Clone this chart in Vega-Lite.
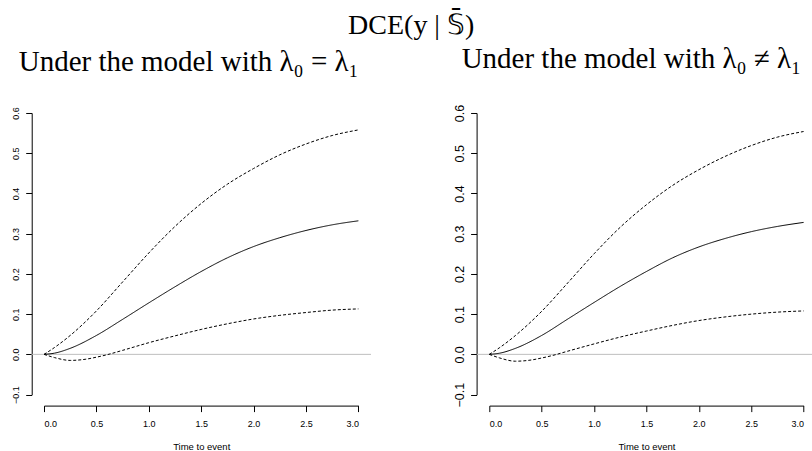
{
  "$schema": "https://vega.github.io/schema/vega-lite/v6.json",
  "background": "white",
  "padding": {"left": 11, "top": 12, "right": 0, "bottom": 0},
  "title": {
    "text": "DCE(y | 𝕊̄)",
    "font": "Liberation Serif",
    "fontSize": 28,
    "fontWeight": "normal",
    "color": "black",
    "anchor": "middle",
    "dx": -3,
    "offset": 5
  },
  "config": {
    "font": "Liberation Sans",
    "view": {"stroke": null},
    "axis": {
      "grid": false,
      "domainColor": "black",
      "tickColor": "black",
      "labelColor": "black",
      "titleColor": "black",
      "titleFontWeight": "normal",
      "labelFont": "Liberation Sans",
      "titleFont": "Liberation Sans"
    }
  },
  "datasets": {
    "curves": [
      {"panel": "eq", "band": "upper", "t": 0, "v": 0},
      {"panel": "eq", "band": "upper", "t": 0.1, "v": 0.017},
      {"panel": "eq", "band": "upper", "t": 0.25, "v": 0.047},
      {"panel": "eq", "band": "upper", "t": 0.5, "v": 0.108},
      {"panel": "eq", "band": "upper", "t": 0.75, "v": 0.18},
      {"panel": "eq", "band": "upper", "t": 1.0, "v": 0.252},
      {"panel": "eq", "band": "upper", "t": 1.25, "v": 0.318},
      {"panel": "eq", "band": "upper", "t": 1.5, "v": 0.375},
      {"panel": "eq", "band": "upper", "t": 1.75, "v": 0.423},
      {"panel": "eq", "band": "upper", "t": 2.0, "v": 0.462},
      {"panel": "eq", "band": "upper", "t": 2.25, "v": 0.496},
      {"panel": "eq", "band": "upper", "t": 2.5, "v": 0.523},
      {"panel": "eq", "band": "upper", "t": 2.75, "v": 0.544},
      {"panel": "eq", "band": "upper", "t": 3.0, "v": 0.558},
      {"panel": "eq", "band": "estimate", "t": 0, "v": 0},
      {"panel": "eq", "band": "estimate", "t": 0.1, "v": 0.003},
      {"panel": "eq", "band": "estimate", "t": 0.25, "v": 0.015},
      {"panel": "eq", "band": "estimate", "t": 0.5, "v": 0.047},
      {"panel": "eq", "band": "estimate", "t": 0.75, "v": 0.087},
      {"panel": "eq", "band": "estimate", "t": 1.0, "v": 0.128},
      {"panel": "eq", "band": "estimate", "t": 1.25, "v": 0.168},
      {"panel": "eq", "band": "estimate", "t": 1.5, "v": 0.206},
      {"panel": "eq", "band": "estimate", "t": 1.75, "v": 0.24},
      {"panel": "eq", "band": "estimate", "t": 2.0, "v": 0.268},
      {"panel": "eq", "band": "estimate", "t": 2.25, "v": 0.29},
      {"panel": "eq", "band": "estimate", "t": 2.5, "v": 0.308},
      {"panel": "eq", "band": "estimate", "t": 2.75, "v": 0.322},
      {"panel": "eq", "band": "estimate", "t": 3.0, "v": 0.332},
      {"panel": "eq", "band": "lower", "t": 0, "v": 0},
      {"panel": "eq", "band": "lower", "t": 0.1, "v": -0.008},
      {"panel": "eq", "band": "lower", "t": 0.25, "v": -0.015},
      {"panel": "eq", "band": "lower", "t": 0.4, "v": -0.012},
      {"panel": "eq", "band": "lower", "t": 0.5, "v": -0.007},
      {"panel": "eq", "band": "lower", "t": 0.6, "v": -0.001},
      {"panel": "eq", "band": "lower", "t": 0.75, "v": 0.01},
      {"panel": "eq", "band": "lower", "t": 1.0, "v": 0.029},
      {"panel": "eq", "band": "lower", "t": 1.25, "v": 0.046},
      {"panel": "eq", "band": "lower", "t": 1.5, "v": 0.062},
      {"panel": "eq", "band": "lower", "t": 1.75, "v": 0.076},
      {"panel": "eq", "band": "lower", "t": 2.0, "v": 0.088},
      {"panel": "eq", "band": "lower", "t": 2.25, "v": 0.097},
      {"panel": "eq", "band": "lower", "t": 2.5, "v": 0.104},
      {"panel": "eq", "band": "lower", "t": 2.75, "v": 0.11},
      {"panel": "eq", "band": "lower", "t": 3.0, "v": 0.113},
      {"panel": "neq", "band": "upper", "t": 0, "v": 0},
      {"panel": "neq", "band": "upper", "t": 0.1, "v": 0.017},
      {"panel": "neq", "band": "upper", "t": 0.25, "v": 0.047},
      {"panel": "neq", "band": "upper", "t": 0.5, "v": 0.107},
      {"panel": "neq", "band": "upper", "t": 0.75, "v": 0.178},
      {"panel": "neq", "band": "upper", "t": 1.0, "v": 0.25},
      {"panel": "neq", "band": "upper", "t": 1.25, "v": 0.316},
      {"panel": "neq", "band": "upper", "t": 1.5, "v": 0.372},
      {"panel": "neq", "band": "upper", "t": 1.75, "v": 0.42},
      {"panel": "neq", "band": "upper", "t": 2.0, "v": 0.459},
      {"panel": "neq", "band": "upper", "t": 2.25, "v": 0.492},
      {"panel": "neq", "band": "upper", "t": 2.5, "v": 0.519},
      {"panel": "neq", "band": "upper", "t": 2.75, "v": 0.54},
      {"panel": "neq", "band": "upper", "t": 3.0, "v": 0.554},
      {"panel": "neq", "band": "estimate", "t": 0, "v": 0},
      {"panel": "neq", "band": "estimate", "t": 0.1, "v": 0.003},
      {"panel": "neq", "band": "estimate", "t": 0.25, "v": 0.015},
      {"panel": "neq", "band": "estimate", "t": 0.5, "v": 0.047},
      {"panel": "neq", "band": "estimate", "t": 0.75, "v": 0.088},
      {"panel": "neq", "band": "estimate", "t": 1.0, "v": 0.129},
      {"panel": "neq", "band": "estimate", "t": 1.25, "v": 0.169},
      {"panel": "neq", "band": "estimate", "t": 1.5, "v": 0.206},
      {"panel": "neq", "band": "estimate", "t": 1.75, "v": 0.24},
      {"panel": "neq", "band": "estimate", "t": 2.0, "v": 0.267},
      {"panel": "neq", "band": "estimate", "t": 2.25, "v": 0.288},
      {"panel": "neq", "band": "estimate", "t": 2.5, "v": 0.305},
      {"panel": "neq", "band": "estimate", "t": 2.75, "v": 0.318},
      {"panel": "neq", "band": "estimate", "t": 3.0, "v": 0.328},
      {"panel": "neq", "band": "lower", "t": 0, "v": 0},
      {"panel": "neq", "band": "lower", "t": 0.1, "v": -0.009},
      {"panel": "neq", "band": "lower", "t": 0.25, "v": -0.017},
      {"panel": "neq", "band": "lower", "t": 0.4, "v": -0.014},
      {"panel": "neq", "band": "lower", "t": 0.5, "v": -0.009},
      {"panel": "neq", "band": "lower", "t": 0.6, "v": -0.003},
      {"panel": "neq", "band": "lower", "t": 0.75, "v": 0.008},
      {"panel": "neq", "band": "lower", "t": 1.0, "v": 0.026},
      {"panel": "neq", "band": "lower", "t": 1.25, "v": 0.043},
      {"panel": "neq", "band": "lower", "t": 1.5, "v": 0.058},
      {"panel": "neq", "band": "lower", "t": 1.75, "v": 0.072},
      {"panel": "neq", "band": "lower", "t": 2.0, "v": 0.084},
      {"panel": "neq", "band": "lower", "t": 2.25, "v": 0.093},
      {"panel": "neq", "band": "lower", "t": 2.5, "v": 0.1},
      {"panel": "neq", "band": "lower", "t": 2.75, "v": 0.105},
      {"panel": "neq", "band": "lower", "t": 3.0, "v": 0.108}
    ]
  },
  "bounds": "flush",
  "spacing": 130.3,
  "hconcat": [
    {
      "width": 314.4,
      "height": 281.6,
      "title": {
        "text": "Under the model with λ₀ = λ₁",
        "font": "Liberation Serif",
        "fontSize": 29,
        "fontWeight": "normal",
        "color": "black",
        "anchor": "middle",
        "frame": "group",
        "dx": -12.5,
        "offset": 30
      },
      "layer": [
        {
          "data": {"values": [{}]},
          "mark": {"type": "rule", "color": "#bebebe", "strokeWidth": 1},
          "encoding": {
            "x": {"datum": -0.12, "type": "quantitative", "scale": {"domain": [0, 3], "nice": false, "zero": false}},
            "x2": {"datum": 3.12},
            "y": {"datum": 0, "type": "quantitative", "scale": {"domain": [-0.1, 0.6], "nice": false, "zero": false}}
          }
        },
        {
          "data": {"name": "curves"},
          "transform": [{"filter": "datum.panel == 'eq'"}],
          "mark": {"type": "line", "color": "black", "strokeWidth": 1, "interpolate": "monotone"},
          "encoding": {
            "x": {
              "field": "t", "type": "quantitative",
              "scale": {"domain": [0, 3], "nice": false, "zero": false},
              "axis": {"values": [0, 0.5, 1, 1.5, 2, 2.5, 3], "format": ".1f", "offset": 11, "tickSize": 6, "labelFontSize": 9, "labelPadding": 8, "title": "Time to event", "titleFontSize": 9.5, "titlePadding": 13}
            },
            "y": {
              "field": "v", "type": "quantitative",
              "scale": {"domain": [-0.1, 0.6], "nice": false, "zero": false},
              "axis": {"values": [-0.1, 0, 0.1, 0.2, 0.3, 0.4, 0.5, 0.6], "format": ".1f", "offset": 12.3, "tickSize": 6, "labelFontSize": 9, "labelAngle": 270, "labelAlign": "center", "labelBaseline": "bottom", "labelPadding": 5, "title": null}
            },
            "strokeDash": {
              "field": "band", "type": "nominal",
              "scale": {"domain": ["estimate", "lower", "upper"], "range": [[1, 0], [3, 2], [3, 2]]},
              "legend": null
            }
          }
        }
      ]
    },
    {
      "width": 314.3,
      "height": 281.6,
      "title": {
        "text": "Under the model with λ₀ ≠ λ₁",
        "font": "Liberation Serif",
        "fontSize": 29,
        "fontWeight": "normal",
        "color": "black",
        "anchor": "middle",
        "frame": "group",
        "dx": -15,
        "offset": 30
      },
      "layer": [
        {
          "data": {"values": [{}]},
          "mark": {"type": "rule", "color": "#bebebe", "strokeWidth": 1},
          "encoding": {
            "x": {"datum": -0.12, "type": "quantitative", "scale": {"domain": [0, 3], "nice": false, "zero": false}},
            "x2": {"datum": 3.12},
            "y": {"datum": 0, "type": "quantitative", "scale": {"domain": [-0.1, 0.6], "nice": false, "zero": false}}
          }
        },
        {
          "data": {"name": "curves"},
          "transform": [{"filter": "datum.panel == 'neq'"}],
          "mark": {"type": "line", "color": "black", "strokeWidth": 1, "interpolate": "monotone"},
          "encoding": {
            "x": {
              "field": "t", "type": "quantitative",
              "scale": {"domain": [0, 3], "nice": false, "zero": false},
              "axis": {"values": [0, 0.5, 1, 1.5, 2, 2.5, 3], "format": ".1f", "offset": 11, "tickSize": 6, "labelFontSize": 9, "labelPadding": 8, "title": "Time to event", "titleFontSize": 9.5, "titlePadding": 13}
            },
            "y": {
              "field": "v", "type": "quantitative",
              "scale": {"domain": [-0.1, 0.6], "nice": false, "zero": false},
              "axis": {"values": [-0.1, 0, 0.1, 0.2, 0.3, 0.4, 0.5, 0.6], "format": ".1f", "offset": 12.7, "tickSize": 6, "labelFontSize": 12.5, "labelAngle": 270, "labelAlign": "center", "labelBaseline": "bottom", "labelPadding": 4, "title": null}
            },
            "strokeDash": {
              "field": "band", "type": "nominal",
              "scale": {"domain": ["estimate", "lower", "upper"], "range": [[1, 0], [3, 2], [3, 2]]},
              "legend": null
            }
          }
        }
      ]
    }
  ]
}
